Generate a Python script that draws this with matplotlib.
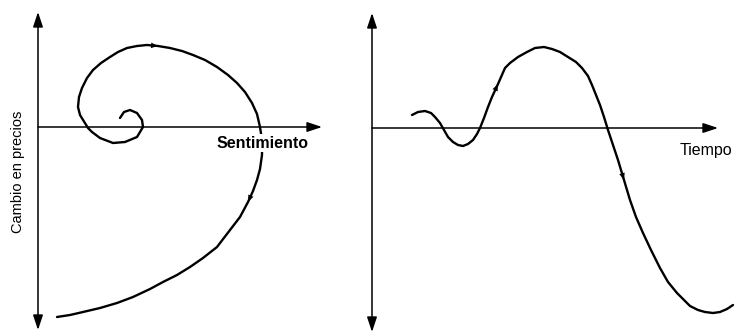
import matplotlib
matplotlib.use("Agg")
import matplotlib.pyplot as plt

# ---- Data ----
# Left panel: price change vs. sentiment (spiral), origin at axis crossing
sentiment = [82, 86, 92, 99, 104, 105, 99, 87, 75, 62, 54, 50, 42, 40, 41, 44, 49, 55,
             63, 72, 80, 89, 99, 109, 120, 132, 144, 155, 167, 179, 190, 199, 207, 214,
             219, 222, 224, 224, 222, 219, 215, 210, 202, 192, 179, 165, 152, 139, 125,
             112, 95, 79, 62, 45, 32, 19]
price_change_s = [9, 15, 17, 14, 7, 0, -10, -15, -16, -11, -5, -1, 12, 20, 30, 39, 49, 57,
                  64, 70, 75, 79, 81, 82, 81, 79, 76, 72, 67, 60, 52, 44, 35, 24,
                  13, 0, -13, -28, -42, -53, -64, -75, -90, -103, -120, -131, -140, -148, -155,
                  -162, -170, -176, -181, -185, -188, -190]

# Right panel: price change vs. time (wave)
time = [40, 46, 53, 59, 63, 68, 72, 76, 81, 86, 91, 96, 101, 105, 108, 112, 116, 120, 126,
        133, 138, 146, 155, 163, 172, 180, 188, 196, 204, 210, 216, 220, 224, 228, 232,
        236, 241, 246, 252, 258, 264, 271, 279, 288, 296, 305, 312, 318, 326, 333, 341,
        348, 355, 361]
price_change_t = [13, 16, 17, 15, 11, 5, -2, -9, -14, -17, -18, -16, -12, -6, 0, 10, 21, 31, 44,
                  60, 65, 71, 76, 80, 81, 79, 76, 71, 66, 60, 52, 43, 33, 23, 11,
                  -2, -17, -32, -52, -72, -89, -105, -122, -140, -154, -165, -172, -178, -182, -184, -185,
                  -184, -181, -177]

x_label_left = "Sentimiento"
x_label_right = "Tiempo"
y_label = "Cambio en precios"

W, H = 741, 336
fig = plt.figure(figsize=(W / 100, H / 100), dpi=100)
fig.patch.set_facecolor("white")

font = ["Liberation Sans", "DejaVu Sans"]
curve_kw = dict(color="black", lw=1.7, solid_capstyle="round", solid_joinstyle="round")
axis_arrow = dict(arrowstyle="-|>,head_length=0.9,head_width=0.3", color="black", lw=1.1,
                  shrinkA=0, shrinkB=0, mutation_scale=10)
axis_arrow2 = dict(arrowstyle="<|-|>,head_length=0.9,head_width=0.3", color="black", lw=1.1,
                   shrinkA=0, shrinkB=0, mutation_scale=10)
small_arrow = dict(arrowstyle="-|>,head_length=0.5,head_width=0.2", color="black", lw=0,
                   shrinkA=0, shrinkB=0, mutation_scale=10)

# ---------- Left panel ----------
axL = fig.add_axes([0, 0, 370 / W, 1])
axL.set_xlim(-38, 332)
axL.set_ylim(127 - H, 127)
axL.axis("off")
axL.annotate("", xy=(0, 115), xytext=(0, -203), arrowprops=axis_arrow2)
axL.annotate("", xy=(284, 0), xytext=(0, 0), arrowprops=axis_arrow)
axL.plot(sentiment, price_change_s, **curve_kw, zorder=3)
axL.annotate("", xy=(sentiment[24], price_change_s[24]), xytext=(sentiment[23], price_change_s[23]),
             arrowprops=small_arrow, zorder=4)
axL.annotate("", xy=(sentiment[41], price_change_s[41]), xytext=(sentiment[40], price_change_s[40]),
             arrowprops=small_arrow, zorder=4)
axL.text(225, -16, x_label_left, ha="center", va="center", fontsize=11.5, fontweight="bold",
         family=font, zorder=5,
         bbox=dict(boxstyle="square,pad=0.1", fc="white", ec="none"))
axL.text(-20, -45, y_label, ha="center", va="center", rotation=90, fontsize=10.5,
         family=font)

# ---------- Right panel ----------
axR = fig.add_axes([370 / W, 0, 371 / W, 1])
axR.set_xlim(-2, 369)
axR.set_ylim(128 - H, 128)
axR.axis("off")
axR.annotate("", xy=(0, 115), xytext=(0, -204), arrowprops=axis_arrow2)
axR.annotate("", xy=(346, 0), xytext=(0, 0), arrowprops=axis_arrow)
axR.plot(time, price_change_t, **curve_kw, zorder=3)
axR.annotate("", xy=(time[18], price_change_t[18]), xytext=(time[17], price_change_t[17]),
             arrowprops=small_arrow, zorder=4)
axR.annotate("", xy=(time[38], price_change_t[38]), xytext=(time[37], price_change_t[37]),
             arrowprops=small_arrow, zorder=4)
axR.text(308, -22, x_label_right, ha="left", va="center", fontsize=11.5, family=font,
         clip_on=False)

fig.savefig("out.png", dpi=100, facecolor="white")
